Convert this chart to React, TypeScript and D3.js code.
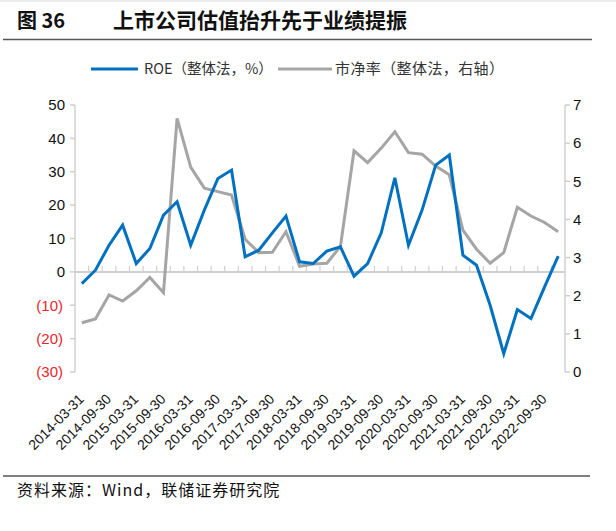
import React from "react";
import * as d3 from "d3";

const categories = [
  "2014-03-31","2014-06-30","2014-09-30","2014-12-31",
  "2015-03-31","2015-06-30","2015-09-30","2015-12-31",
  "2016-03-31","2016-06-30","2016-09-30","2016-12-31",
  "2017-03-31","2017-06-30","2017-09-30","2017-12-31",
  "2018-03-31","2018-06-30","2018-09-30","2018-12-31",
  "2019-03-31","2019-06-30","2019-09-30","2019-12-31",
  "2020-03-31","2020-06-30","2020-09-30","2020-12-31",
  "2021-03-31","2021-06-30","2021-09-30","2021-12-31",
  "2022-03-31","2022-06-30","2022-09-30","2022-12-31",
];

const roe = [
  -3.5, 0.5, 8, 14, 2.5, 7, 17, 21,
  8, 18.5, 28, 30.5, 4.5, 6.5, 11.7, 16.7,
  3, 2.5, 6.2, 7.5, -1.3, 2.5, 11.7, 28.2,
  8, 18.5, 32, 35, 5, 2, -10, -24.5,
  -11.3, -14, -4.5, 4.7,
];

const pb = [
  1.29, 1.39, 2.02, 1.86, 2.13, 2.48, 2.08, 6.65,
  5.37, 4.82, 4.73, 4.64, 3.48, 3.13, 3.14, 3.68,
  2.77, 2.83, 2.85, 3.29, 5.8, 5.49, 5.87, 6.3,
  5.75, 5.71, 5.4, 5.17, 3.72, 3.22, 2.85, 3.13,
  4.32, 4.09, 3.92, 3.68,
];

const leftTicks = [50, 40, 30, 20, 10, 0, -10, -20, -30];
const rightTicks = [0, 1, 2, 3, 4, 5, 6, 7];

const title = "上市公司估值抬升先于业绩提振";
const figNo = "图 36";
const legendRoe = "ROE（整体法，%）";
const legendPb = "市净率（整体法，右轴）";
const source = "资料来源：Wind，联储证券研究院";

const BLUE = "#0070c0";
const GRAY = "#a5a5a5";
const AXIS = "#d0d0d0";

export default function App() {
  const W = 616, H = 531;
  const left = 75, right = 565, top = 105, bottom = 372;
  const x = d3.scaleBand<string>().domain(categories).range([left, right]);
  const bw = x.bandwidth();
  const cx = (c: string) => (x(c) as number) + bw / 2;
  const yL = d3.scaleLinear().domain([-30, 50]).range([bottom, top]);
  const yR = d3.scaleLinear().domain([0, 7]).range([bottom, top]);

  const lineL = d3.line<number>().x((_, i) => cx(categories[i])).y((d) => yL(d));
  const lineR = d3.line<number>().x((_, i) => cx(categories[i])).y((d) => yR(d));

  const y0 = yL(0);
  const numFont = "'Liberation Sans', Arial, sans-serif";
  const cjkFont = "'Noto Sans CJK SC', sans-serif";

  return (
    <svg width={W} height={H} style={{ position: "absolute", left: 0, top: 0, background: "#fff" }}>
      <rect x={0} y={0} width={W} height={2} fill="#ececec" />
      {/* Title */}
      <text x={17} y={28} fontFamily={cjkFont} fontWeight={700} fontSize={20} fill="#111">{figNo}</text>
      <text x={113} y={28} fontFamily={cjkFont} fontWeight={700} fontSize={21} fill="#111">{title}</text>
      <line x1={3} x2={592} y1={39.5} y2={39.5} stroke="#555" strokeWidth={1.5} />

      {/* Legend */}
      <line x1={91} x2={138} y1={69} y2={69} stroke={BLUE} strokeWidth={3} />
      <text x={144} y={69} dy="0.35em" fontFamily={cjkFont} fontSize={14.5} fill="#333">{legendRoe}</text>
      <line x1={278} x2={332} y1={69} y2={69} stroke={GRAY} strokeWidth={3} />
      <text x={335} y={69} dy="0.35em" fontFamily={cjkFont} fontSize={15} letterSpacing={0.4} fill="#333">{legendPb}</text>

      {/* Left axis */}
      <line x1={left} x2={left} y1={top} y2={bottom} stroke={AXIS} strokeWidth={1.5} />
      {leftTicks.map((t) => (
        <g key={"l" + t}>
          <line x1={left - 5} x2={left} y1={yL(t)} y2={yL(t)} stroke={AXIS} strokeWidth={1.5} />
          <text x={t < 0 ? 63 : 65} y={yL(t)} dy="0.35em" textAnchor="end" fontFamily={numFont} fontSize={15}
            fill={t < 0 ? "#e8262b" : "#111"}>
            {t < 0 ? `(${-t})` : `${t}`}
          </text>
        </g>
      ))}

      {/* Right axis */}
      <line x1={right} x2={right} y1={top} y2={bottom} stroke={AXIS} strokeWidth={1.5} />
      {rightTicks.map((t) => (
        <g key={"r" + t}>
          <line x1={right} x2={right + 5} y1={yR(t)} y2={yR(t)} stroke={AXIS} strokeWidth={1.5} />
          <text x={573} y={yR(t)} dy="0.35em" textAnchor="start" fontFamily={numFont} fontSize={15} fill="#111">
            {t}
          </text>
        </g>
      ))}

      {/* Category axis at zero */}
      <line x1={left} x2={right} y1={y0} y2={y0} stroke={AXIS} strokeWidth={2} />
      {categories.slice(1).map((c) => (
        <line key={"t" + c} x1={x(c) as number} x2={x(c) as number} y1={y0 - 6} y2={y0} stroke={AXIS} strokeWidth={1.2} />
      ))}

      {/* Lines */}
      <path d={lineR(pb) || ""} fill="none" stroke={GRAY} strokeWidth={3} strokeLinejoin="miter" />
      <path d={lineL(roe) || ""} fill="none" stroke={BLUE} strokeWidth={3} strokeLinejoin="miter" />

      {/* X labels */}
      {categories.map((c, i) =>
        i % 2 === 0 ? (
          <text key={"x" + c} transform={`translate(${cx(c) + 3},${400}) rotate(-45)`} textAnchor="end"
            fontFamily={numFont} fontSize={14} fill="#111">
            {c}
          </text>
        ) : null
      )}

      {/* Footer */}
      <line x1={3} x2={590} y1={476} y2={476} stroke="#555" strokeWidth={1.5} />
      <text x={17} y={490} dy="0.35em" fontFamily={cjkFont} fontSize={16} letterSpacing={1} fill="#111">{source}</text>
    </svg>
  );
}
